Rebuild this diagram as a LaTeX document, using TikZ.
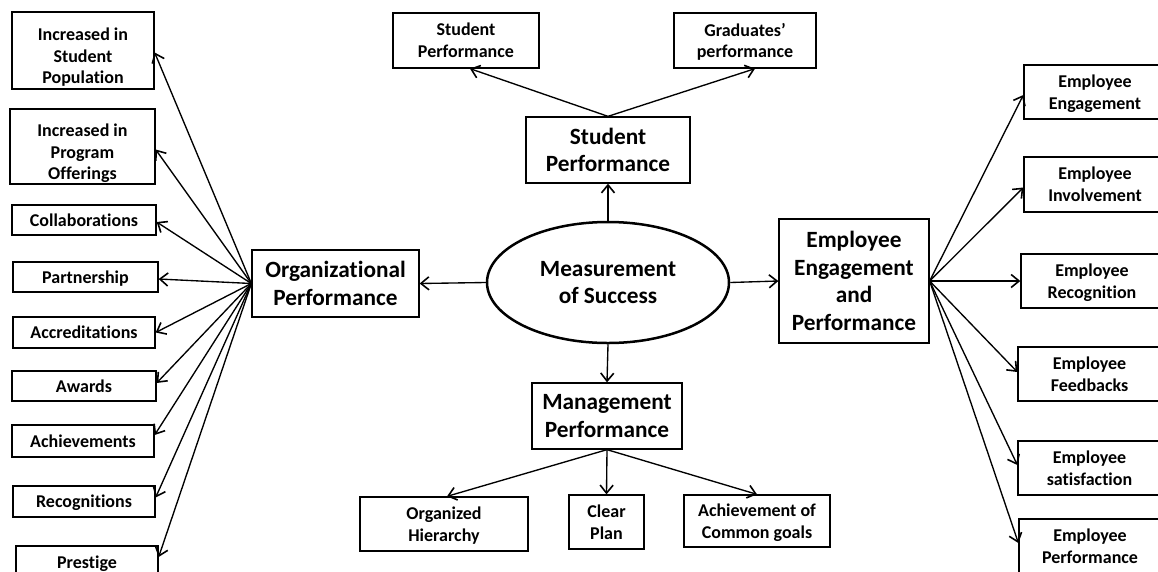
\documentclass[tikz,border=0pt]{standalone}
\usepackage{fontspec}
\setmainfont{Carlito}[Ligatures=NoCommon]
\usetikzlibrary{arrows.meta,shapes.geometric}
\newcommand{\labelS}{\fontsize{18}{21.7}\selectfont\bfseries}
\newcommand{\labelL}{\fontsize{23.3}{27.7}\selectfont\bfseries}
% a taller first line lowers three-line labels a little
\newcommand{\tallstrut}{\rule{0pt}{23.5pt}}
\tikzset{
  box/.style={draw, rectangle, line width=1.3pt, inner sep=0pt, align=center, font=\labelS, text depth=0pt},
  hub/.style={draw, rectangle, line width=1.3pt, inner sep=0pt, align=center, font=\labelL},
  arr/.style={line width=1.35pt, -{Straight Barb[length=8pt,width=13pt,line width=1.6pt]}},
}
\begin{document}
\begin{tikzpicture}[x=1pt,y=-1pt]
\fill[white] (0,0) rectangle (1158,571);
\useasboundingbox (0,0) rectangle (1158,571);

% centre
\node[draw, ellipse, line width=2.5pt, minimum width=242pt, minimum height=121pt, inner sep=0pt,
      align=center, font=\labelL] (ms) at (608,282.5) {Measurement\\of Success};

% four main areas
\node[hub, minimum width=167pt, minimum height=67pt] (org) at (335.5,283.5) {Organizational\\Performance};
\node[hub, minimum width=164pt, minimum height=66pt] (stu) at (608,150) {Student\\Performance};
\node[hub, minimum width=150pt, minimum height=66pt] (mgt) at (607,416) {Management\\Performance};
\node[hub, minimum width=150pt, minimum height=124pt] (emp) at (854,281) {Employee\\Engagement\\and\\Performance};

% organizational indicators
\node[box, minimum width=142pt, minimum height=77pt] (o1) at (83,50.5) {\tallstrut Increased in\\Student\\Population};
\node[box, minimum width=145pt, minimum height=75pt] (o2) at (82.5,146.5) {\tallstrut Increased in\\Program\\Offerings};
\node[box, minimum width=144pt, minimum height=30pt] (o3) at (84,220) {Collaborations};
\node[box, minimum width=145pt, minimum height=30pt] (o4) at (85.5,277) {Partnership};
\node[box, minimum width=142pt, minimum height=31pt] (o5) at (84,332.5) {Accreditations};
\node[box, minimum width=144pt, minimum height=30pt] (o6) at (84,386) {Awards};
\node[box, minimum width=142pt, minimum height=32pt] (o7) at (83,441) {Achievements};
\node[box, minimum width=142pt, minimum height=31pt] (o8) at (84,501.5) {Recognitions};
\node[box, minimum width=142pt, minimum height=32pt] (o9) at (87,562) {Prestige};

% student indicators
\node[box, minimum width=146pt, minimum height=55pt] (s1) at (466,40.5) {Student\\Performance};
\node[box, minimum width=142pt, minimum height=55pt] (s2) at (745,40.5) {Graduates’\\performance};

% management indicators
\node[box, minimum width=168pt, minimum height=54pt] (m1) at (444,524) {Organized\\Hierarchy};
\node[box, minimum width=75pt, minimum height=54pt] (m2) at (606.5,522) {Clear\\Plan};
\node[box, minimum width=146pt, minimum height=52pt] (m3) at (757,521) {Achievement of\\Common goals};

% employee indicators
\node[box, minimum width=142pt, minimum height=54pt] (e1) at (1095,92) {Employee\\Engagement};
\node[box, minimum width=142pt, minimum height=55pt] (e2) at (1095,184.5) {Employee\\Involvement};
\node[box, minimum width=142pt, minimum height=54pt] (e3) at (1092,281) {Employee\\Recognition};
\node[box, minimum width=143pt, minimum height=54pt] (e4) at (1089.5,374) {Employee\\Feedbacks};
\node[box, minimum width=143pt, minimum height=54pt] (e5) at (1089.5,468) {Employee\\satisfaction};
\node[box, minimum width=142pt, minimum height=54pt] (e6) at (1090,546) {Employee\\Performance};

% centre to main areas
\draw[arr] (ms.west) -- (org.east);
\draw[arr] (ms.north) -- (stu.south);
\draw[arr] (ms.south) -- (mgt.north);
\draw[arr] (ms.east) -- (emp.west);

% organizational fan
\draw[arr] (org.west) -- ([yshift=-2pt]o1.east);
\draw[arr] (org.west) -- ([yshift=-3pt]o2.east);
\draw[arr] (org.west) -- ([yshift=-2pt]o3.east);
\draw[arr] (org.west) -- ([yshift=-2pt]o4.east);
\draw[arr] (org.west) -- (o5.east);
\draw[arr] (org.west) -- ([yshift=3pt]o6.east);
\draw[arr] (org.west) -- ([yshift=6pt]o7.east);
\draw[arr] (org.west) -- ([yshift=4pt]o8.east);
\draw[arr] (org.west) -- ([yshift=5pt]o9.east);

% student branch
\draw[arr] (stu.north) -- ([xshift=4pt]s1.south);
\draw[arr] (stu.north) -- ([xshift=10pt]s2.south);

% management branch
\draw[arr] (mgt.south) -- ([xshift=3pt]m1.north);
\draw[arr] (mgt.south) -- (m2.north);
\draw[arr] (mgt.south) -- (m3.north);

% employee fan
\draw[arr] (emp.east) -- ([yshift=-3pt]e1.west);
\draw[arr] (emp.east) -- ([yshift=-3pt]e2.west);
\draw[arr] (emp.east) -- (e3.west);
\draw[arr] (emp.east) -- ([yshift=2pt]e4.west);
\draw[arr] (emp.east) -- ([yshift=3pt]e5.west);
\draw[arr] (emp.east) -- ([yshift=3pt]e6.west);
\end{tikzpicture}
\end{document}
